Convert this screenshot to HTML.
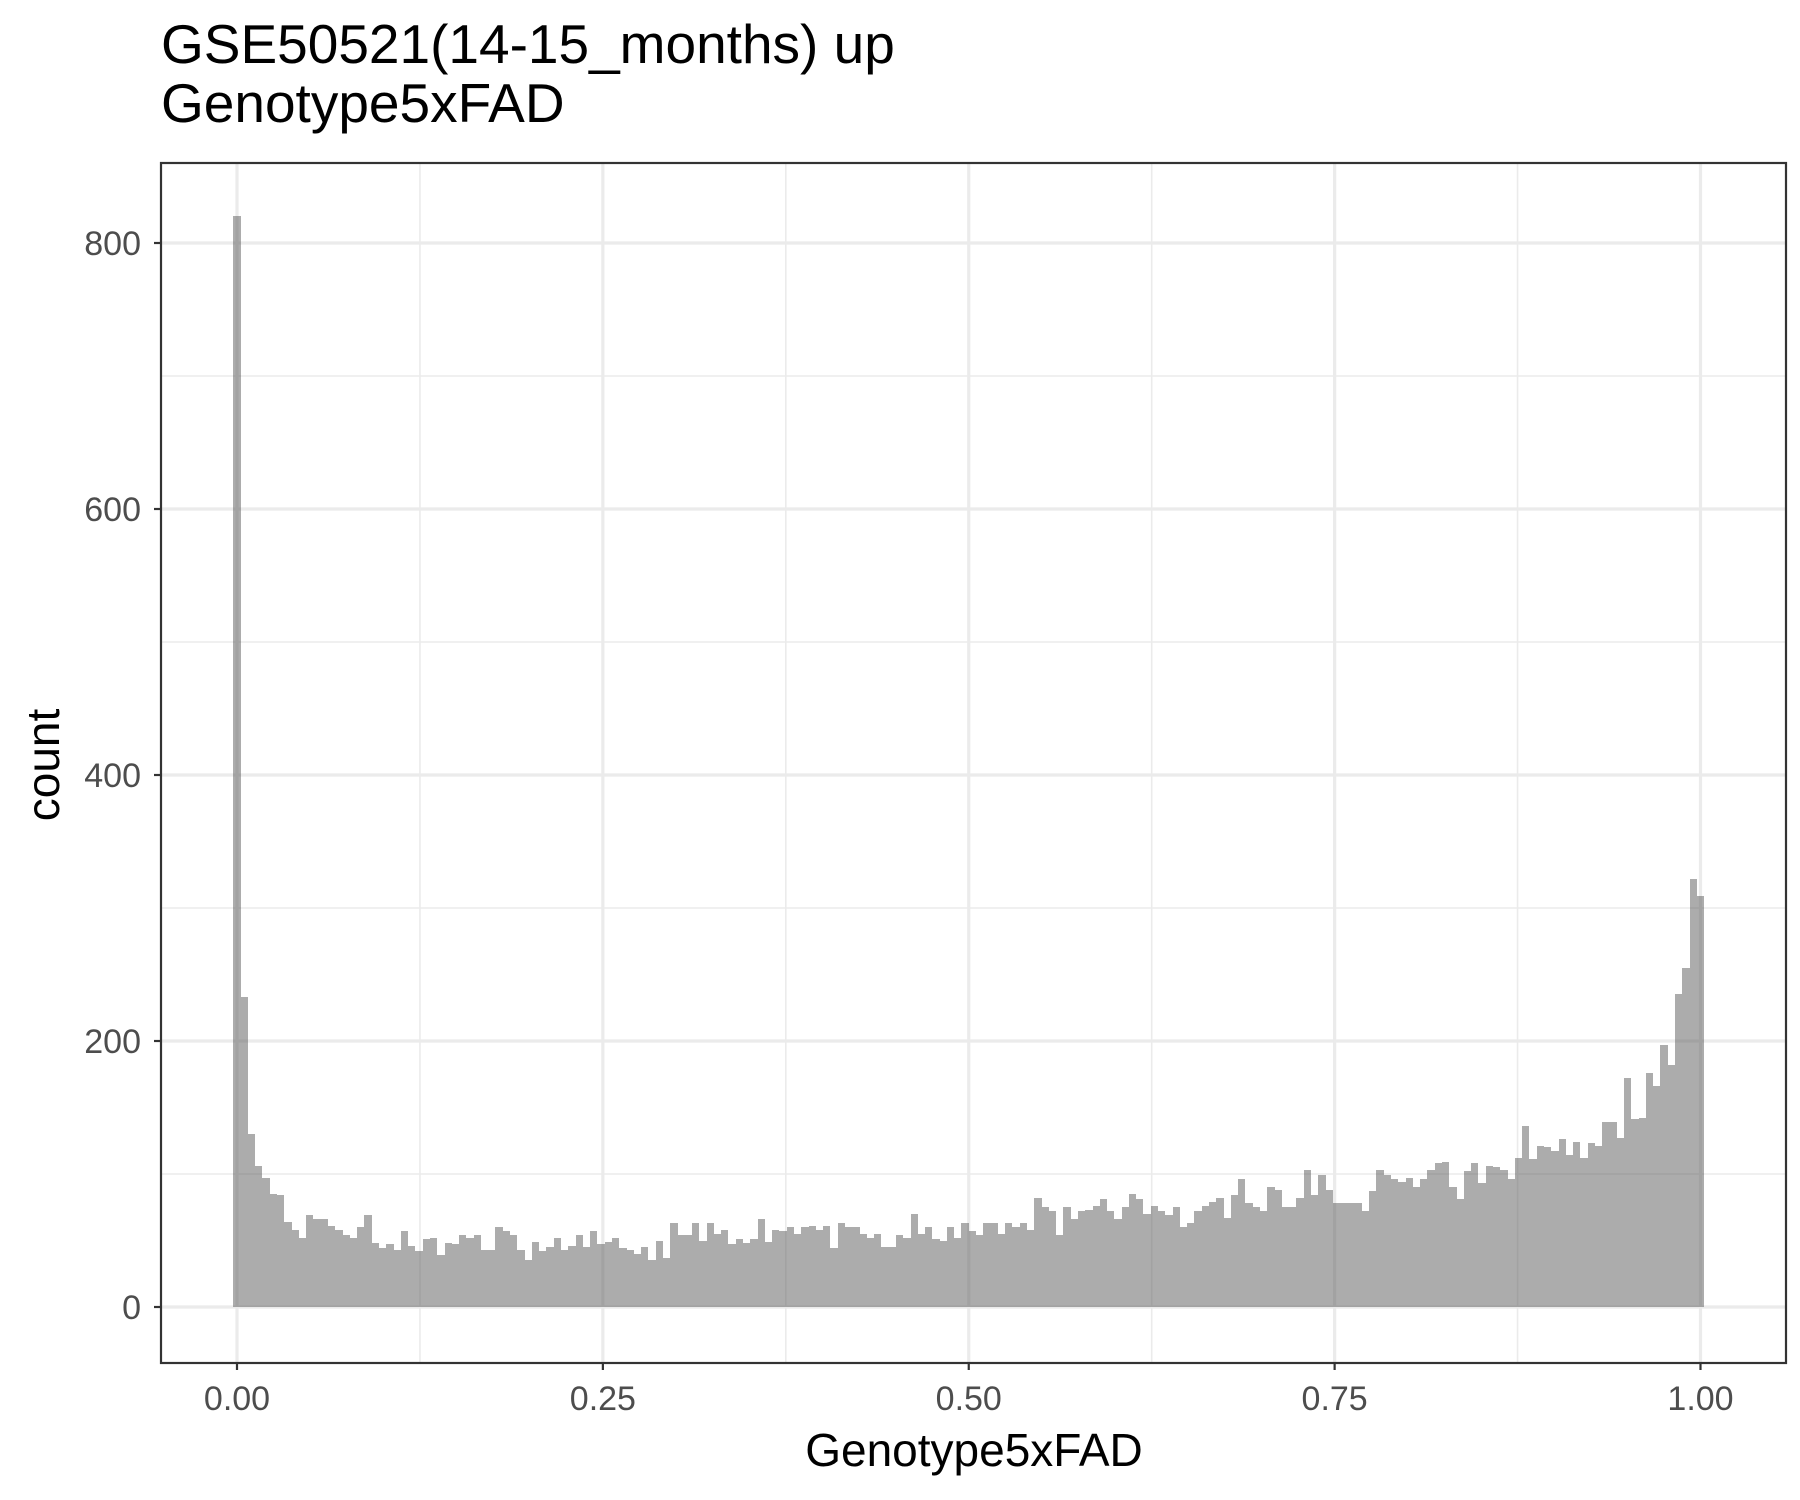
<!DOCTYPE html>
<html><head><meta charset="utf-8"><style>
html,body{margin:0;padding:0;background:#fff;}
svg{display:block;font-family:"Liberation Sans",Arial,sans-serif;}
</style></head><body>
<svg id="chart" width="1800" height="1500" viewBox="0 0 1800 1500">
<rect x="0" y="0" width="1800" height="1500" fill="#fff"/>
<text x="161" y="63" font-size="55" fill="#000">GSE50521(14-15_months) up</text>
<text x="161" y="122" font-size="55" fill="#000">Genotype5xFAD</text>
<g id="grid"></g>
<g id="bars" shape-rendering="crispEdges"></g>
<g id="axes"></g>
<text x="974" y="1466" font-size="46" text-anchor="middle" fill="#000">Genotype5xFAD</text>
<text x="0" y="0" font-size="46" text-anchor="middle" fill="#000" transform="translate(59,765) rotate(-90)">count</text>
</svg>
<script>
const counts = [820,233,130,106,97,85,84,64,58,52,69,66,66,61,58,54,52,60,69,48,44,47,43,57,46,42,51,52,39,48,47,54,52,54,43,43,60,57,54,43,35,49,42,45,52,43,46,54,45,57,47,
49,52,44,43,40,45,35,50,37,63,54,54,63,50,63,55,58,47,51,48,51,66,49,58,57,60,55,60,61,58,61,44,63,60,60,55,52,55,45,45,54,52,70,55,60,51,50,60,52,63,57,
54,63,63,55,63,60,63,58,82,75,72,54,75,66,72,73,76,81,72,66,75,85,81,70,76,72,69,75,60,63,72,76,79,82,67,84,96,78,75,72,90,88,75,75,82,103,84,99,88,78,78,
78,78,72,87,103,99,96,94,97,90,96,103,108,109,90,81,102,108,93,106,105,103,96,112,136,111,121,120,117,126,114,124,112,123,121,139,139,127,172,141,142,176,166,
197,182,235,255,322,309];
const yTicks = [0,200,400,600,800];
const yMinor = [100,300,500,700];
const xTicks = [0,0.25,0.5,0.75,1];
const xTickLabels = ["0.00","0.25","0.50","0.75","1.00"];
const xMinor = [0.125,0.375,0.625,0.875];

const P = {l:161, r:1786, t:163, b:1363};
const X0 = 237, XU = 1463.5;
const Y0 = 1307, YU = (1307-243)/800;
function sx(v){return X0 + v*XU;}
function sy(v){return Y0 - v*YU;}
const NS='http://www.w3.org/2000/svg';
function mk(tag, attrs, parent){const e=document.createElementNS(NS,tag);for(const k in attrs)e.setAttribute(k,attrs[k]);parent.appendChild(e);return e;}

const grid=document.getElementById('grid');
mk('rect',{x:P.l,y:P.t,width:P.r-P.l,height:P.b-P.t,fill:'#fff'},grid);
yMinor.forEach(v=>{const l=mk('line',{x1:P.l,x2:P.r,y1:sy(v),y2:sy(v),stroke:'#ebebeb','stroke-width':1.6},grid);

});
xMinor.forEach(v=>{const l=mk('line',{x1:sx(v),x2:sx(v),y1:P.t,y2:P.b,stroke:'#ebebeb','stroke-width':1.6},grid);

});
yTicks.forEach(v=>{const l=mk('line',{x1:P.l,x2:P.r,y1:sy(v),y2:sy(v),stroke:'#ebebeb','stroke-width':3.2},grid);

});
xTicks.forEach(v=>{const l=mk('line',{x1:sx(v),x2:sx(v),y1:P.t,y2:P.b,stroke:'#ebebeb','stroke-width':3.2},grid);

});

const bars=document.getElementById('bars');
const n=counts.length, w=1/(n-1);
counts.forEach((c,i)=>{
  const x1=Math.round(sx(i*w-w/2)), x2=Math.round(sx(i*w+w/2));
  const yt=Math.round(sy(c)), yb=Math.round(sy(0));
  const r=mk('rect',{x:x1,y:yt,width:x2-x1,height:yb-yt,fill:'#595959','fill-opacity':0.5},bars);
  
  
});

const axes=document.getElementById('axes');
const fr=mk('rect',{x:P.l,y:P.t,width:P.r-P.l,height:P.b-P.t,fill:'none',stroke:'#333','stroke-width':2.2},axes);


yTicks.forEach(v=>{
  mk('line',{x1:P.l-7,x2:P.l,y1:sy(v),y2:sy(v),stroke:'#333','stroke-width':2.2},axes);
  const t=mk('text',{x:P.l-20,y:sy(v)+12,'font-size':34,'text-anchor':'end',fill:'#4d4d4d'},axes);
  t.textContent=String(v);
  
  
});
xTicks.forEach((v,i)=>{
  mk('line',{x1:sx(v),x2:sx(v),y1:P.b,y2:P.b+7,stroke:'#333','stroke-width':2.2},axes);
  const t=mk('text',{x:sx(v),y:1410,'font-size':34,'text-anchor':'middle',fill:'#4d4d4d'},axes);
  t.textContent=xTickLabels[i];
  
  
});
</script>
</body></html>
